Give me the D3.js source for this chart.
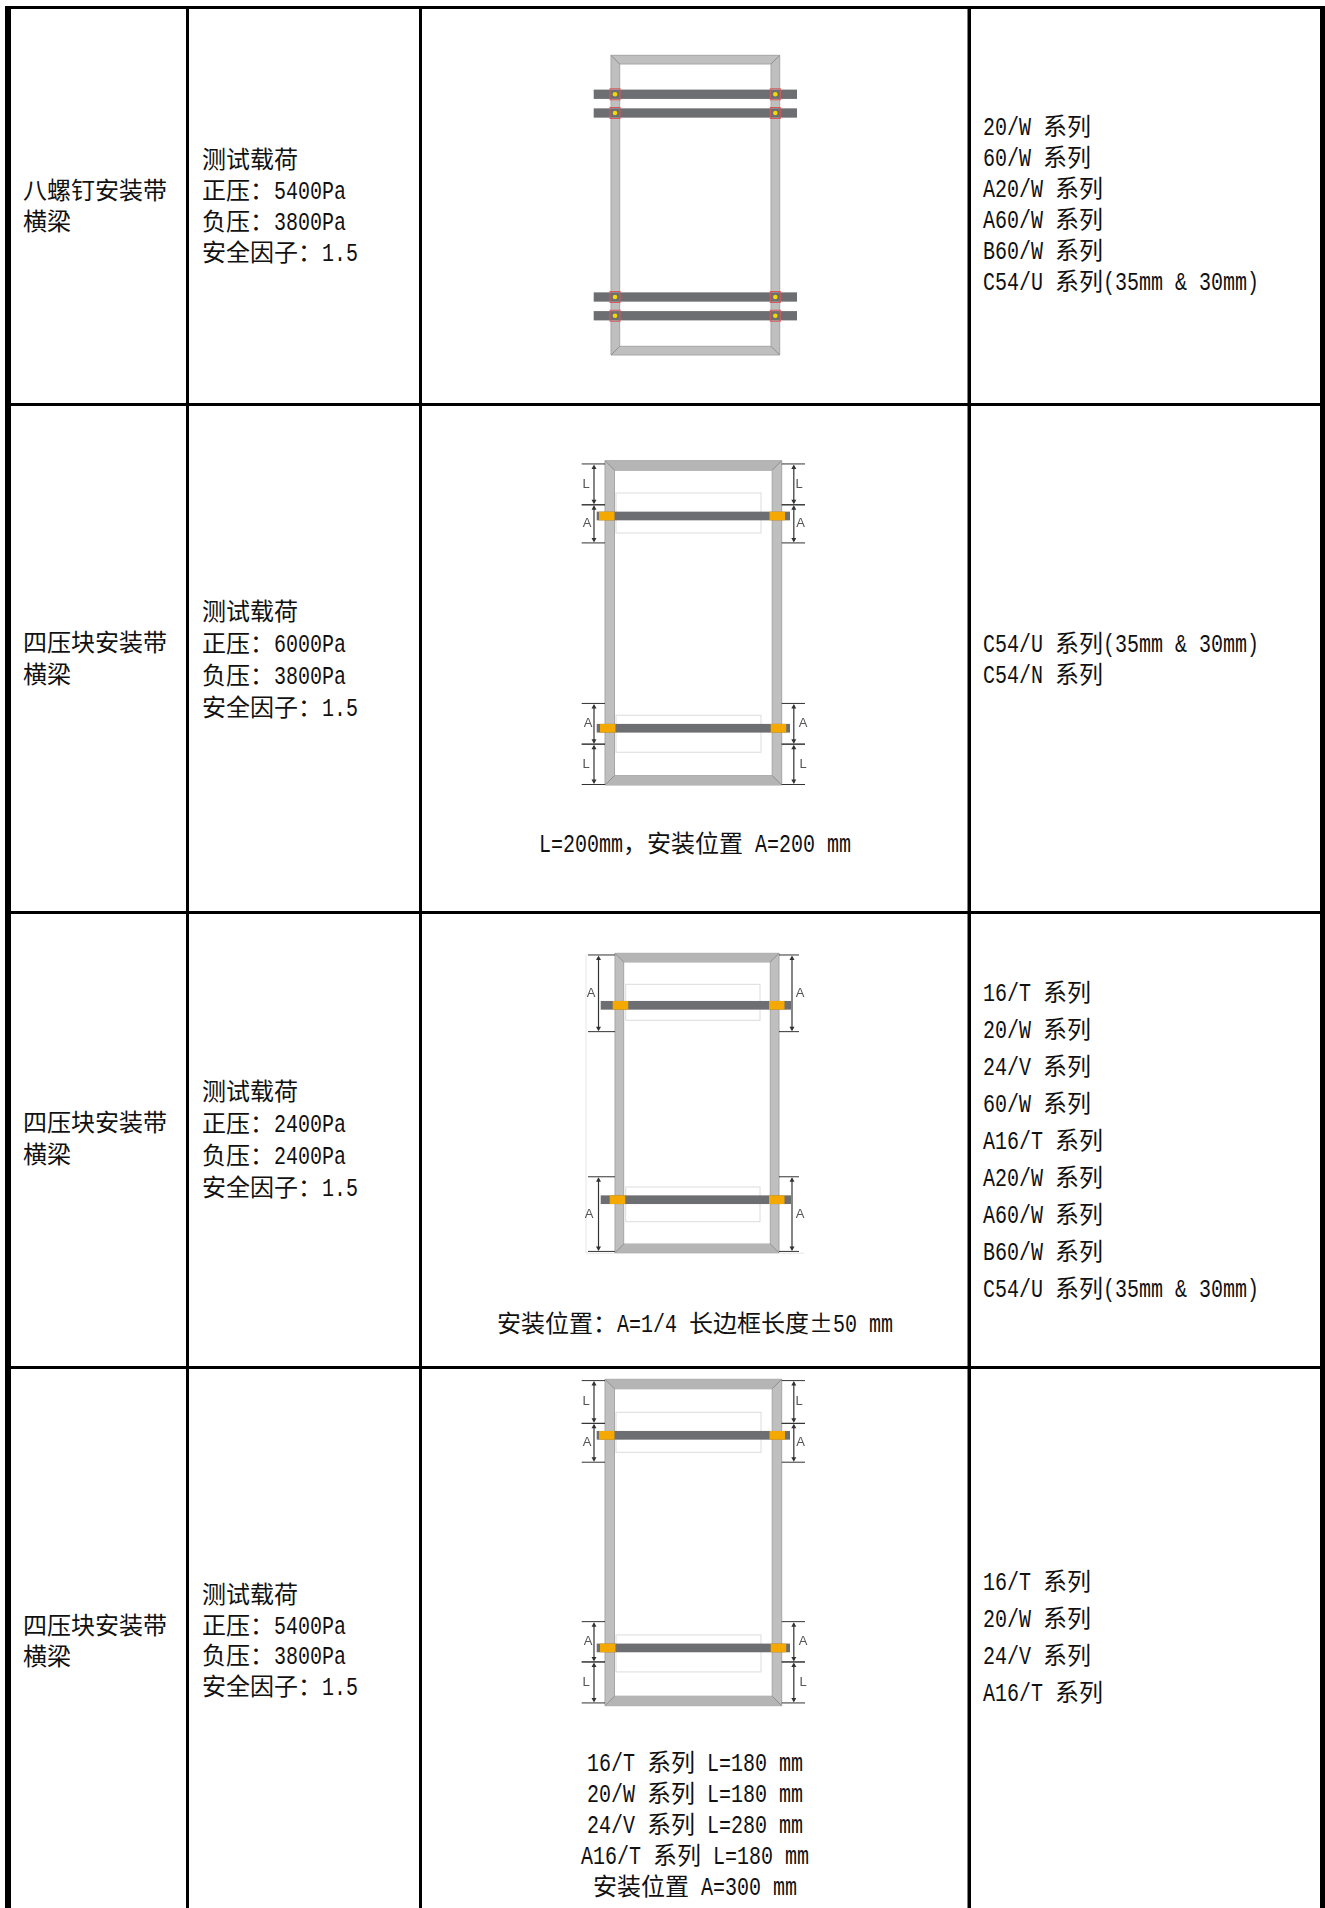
<!DOCTYPE html>
<html>
<head>
<meta charset="utf-8">
<script src="https://cdnjs.cloudflare.com/ajax/libs/d3/7.8.5/d3.min.js"></script>
<style>
  html, body { margin: 0; padding: 0; background: #fff; }
  svg { display: block; }
  text { white-space: pre; fill: #111; }
</style>
</head>
<body>
<svg id="chart" width="1325" height="1908"></svg>
<script>
// table content
var mountTypes = ["八螺钉安装带", "四压块安装带", "四压块安装带", "四压块安装带"];
var mountSuffix = ["横梁", "横梁", "横梁", "横梁"];
var positivePressure = [5400, 6000, 2400, 5400];
var negativePressure = [3800, 3800, 2400, 3800];
var safetyFactor = ["1.5", "1.5", "1.5", "1.5"];

var seriesRow1 = ["20/W 系列", "60/W 系列", "A20/W 系列", "A60/W 系列", "B60/W 系列", "C54/U 系列(35mm & 30mm)"];
var seriesRow2 = ["C54/U 系列(35mm & 30mm)", "C54/N 系列"];
var seriesRow3 = ["16/T 系列", "20/W 系列", "24/V 系列", "60/W 系列", "A16/T 系列", "A20/W 系列", "A60/W 系列", "B60/W 系列", "C54/U 系列(35mm & 30mm)"];
var seriesRow4 = ["16/T 系列", "20/W 系列", "24/V 系列", "A16/T 系列"];

var captionRow2 = ["L=200mm，安装位置 A=200 mm"];
var captionRow3 = ["安装位置：A=1/4 长边框长度±50 mm"];
var captionRow4 = ["16/T 系列 L=180 mm", "20/W 系列 L=180 mm", "24/V 系列 L=280 mm", "A16/T 系列 L=180 mm", "安装位置 A=300 mm"];

// positions along the long frame edge, 0 = top of frame, 1 = bottom
var railsRow1 = [0.130, 0.1925, 0.8065, 0.869];
var railsRow2 = [0.1705, 0.825];
var railsRow3 = [0.1737, 0.823];
var railsRow4 = [0.1716, 0.823];

var dimsRow2 = [["L", 0.01, 0.136], ["A", 0.136, 0.2535], ["A", 0.7485, 0.874], ["L", 0.874, 0.9985]];
var dimsRow3 = [["A", 0.0056, 0.2617], ["A", 0.7464, 0.9957]];
var dimsRow4 = [["L", 0.004, 0.135], ["A", 0.135, 0.254], ["A", 0.7425, 0.866], ["L", 0.866, 0.9915]];

var svg = d3.select("#chart");
var width = +svg.attr("width"),
    height = +svg.attr("height");

var CJK_W = 24, LATIN_W = 12;
var CJK_FONT = "'Noto Sans CJK SC'";
var LATIN_FONT = "'Liberation Mono'";

// grid lines of the table: [start, end] of each black rule
var colRules = [[5, 11], [186, 189], [419, 422], [967.5, 971], [1320, 1325]];
var rowRules = [[6, 9], [403, 406], [911, 914], [1366, 1369]];

var grid = svg.append("g");
grid.selectAll(".col").data(colRules).enter().append("rect")
    .attr("x", function(d) { return d[0]; })
    .attr("y", 6)
    .attr("width", function(d) { return d[1] - d[0]; })
    .attr("height", height - 6)
    .attr("fill", "#000");
grid.selectAll(".row").data(rowRules).enter().append("rect")
    .attr("x", 5)
    .attr("y", function(d) { return d[0]; })
    .attr("width", width - 5)
    .attr("height", function(d) { return d[1] - d[0]; })
    .attr("fill", "#000");

function runs(str) {
  return str.match(/[\x00-\x7f]+|[^\x00-\x7f]+/g);
}

function lineWidth(str) {
  return d3.sum(runs(str), function(r) {
    return r.charCodeAt(0) < 128 ? r.length * LATIN_W : r.length * CJK_W;
  });
}

// draw one line on the half/full width cell grid of the original font
function textLine(parent, str, x, y, centered) {
  var cx = centered ? x - lineWidth(str) / 2 : x;
  var t = parent.append("text").attr("y", y);
  runs(str).forEach(function(r) {
    var latin = r.charCodeAt(0) < 128;
    var w = r.length * (latin ? LATIN_W : CJK_W);
    t.append("tspan")
        .attr("x", cx)
        .attr("textLength", w)
        .attr("lengthAdjust", "spacingAndGlyphs")
        .style("font-family", latin ? LATIN_FONT : CJK_FONT)
        .style("font-size", latin ? "25px" : "23.6px")
        .text(r);
    cx += w;
  });
}

var textLayer = svg.append("g");
var COL1_X = 23, COL2_X = 202, COL3_CX = 695, COL4_X = 983;

// first baseline and line step per row
var titleY = [199, 651, 1131, 1634];
var titleStep = [31, 32, 32, 30.5];
var loadY = [168, 620, 1100, 1603];
var loadStep = [31, 32, 32, 30.7];
var seriesY = [135, 652, 1001, 1590];
var seriesStep = [31, 31, 37, 37];
var seriesRows = [seriesRow1, seriesRow2, seriesRow3, seriesRow4];

mountTypes.forEach(function(name, i) {
  textLine(textLayer, name, COL1_X, titleY[i]);
  textLine(textLayer, mountSuffix[i], COL1_X, titleY[i] + titleStep[i]);

  textLine(textLayer, "测试载荷", COL2_X, loadY[i]);
  textLine(textLayer, "正压：" + positivePressure[i] + "Pa", COL2_X, loadY[i] + loadStep[i]);
  textLine(textLayer, "负压：" + negativePressure[i] + "Pa", COL2_X, loadY[i] + 2 * loadStep[i]);
  textLine(textLayer, "安全因子：" + safetyFactor[i], COL2_X, loadY[i] + 3 * loadStep[i]);

  seriesRows[i].forEach(function(s, j) {
    textLine(textLayer, s, COL4_X, seriesY[i] + j * seriesStep[i]);
  });
});

textLine(textLayer, captionRow2[0], COL3_CX, 852, true);
textLine(textLayer, captionRow3[0], COL3_CX, 1332, true);
captionRow4.forEach(function(c, j) {
  textLine(textLayer, c, COL3_CX, 1771 + j * 31, true);
});

// module diagrams, slightly soft like the scanned pictures
var defs = svg.append("defs");
defs.append("filter").attr("id", "soft")
    .attr("x", "-5%").attr("y", "-5%").attr("width", "110%").attr("height", "110%")
  .append("feGaussianBlur").attr("stdDeviation", 0.55);

function drawFrame(g, f) {
  var x0 = f.x0, x1 = f.x1, y0 = f.y0, y1 = f.y1, t = f.thick;
  g.append("path")
      .attr("d", "M" + x0 + "," + y0 + "H" + x1 + "V" + y1 + "H" + x0 + "Z" +
                 "M" + (x0 + t) + "," + (y0 + t) + "H" + (x1 - t) + "V" + (y1 - t) + "H" + (x0 + t) + "Z")
      .attr("fill", "#bfbfbf")
      .attr("fill-rule", "evenodd")
      .attr("stroke", "#a6a6a6")
      .attr("stroke-width", 1);
  if (f.capFill) {
    var caps = [[[x0, y0], [x1, y0], [x1 - t, y0 + t], [x0 + t, y0 + t]],
                [[x0, y1], [x1, y1], [x1 - t, y1 - t], [x0 + t, y1 - t]]];
    g.selectAll(".cap").data(caps).enter().append("path")
        .attr("d", function(d) { return d3.line()(d) + "Z"; })
        .attr("fill", f.capFill);
  }
  var miters = [[x0, y0, x0 + t, y0 + t], [x1, y0, x1 - t, y0 + t], [x0, y1, x0 + t, y1 - t], [x1, y1, x1 - t, y1 - t]];
  g.selectAll(".miter").data(miters).enter().append("line")
      .attr("x1", function(d) { return d[0]; })
      .attr("y1", function(d) { return d[1]; })
      .attr("x2", function(d) { return d[2]; })
      .attr("y2", function(d) { return d[3]; })
      .attr("stroke", "#8f8f8f")
      .attr("stroke-width", 1);
}

function drawRails(g, f, rails, y) {
  g.selectAll(".rail").data(rails).enter().append("rect")
      .attr("x", f.railX0)
      .attr("y", function(d) { return y(d) - f.railH / 2; })
      .attr("width", f.railX1 - f.railX0)
      .attr("height", f.railH)
      .attr("fill", "#6d6e71");
}

function drawBolts(g, f, rails, y) {
  var xs = [f.boltL, f.boltR];
  xs.forEach(function(bx) {
    g.selectAll(null).data(rails).enter().append("rect")
        .attr("x", bx - 5)
        .attr("y", function(d) { return y(d) - 5.5; })
        .attr("width", 10)
        .attr("height", 11)
        .attr("fill", "none")
        .attr("stroke", "#d9595c")
        .attr("stroke-width", 1);
    g.selectAll(null).data(rails).enter().append("circle")
        .attr("cx", bx)
        .attr("cy", function(d) { return y(d); })
        .attr("r", 2.3)
        .attr("fill", "#f2d900");
  });
}

function drawModules(g, f, rails, y) {
  rails.forEach(function(r, i) {
    g.append("rect")
        .attr("x", f.modX0)
        .attr("y", y(r) + f.modTop[i])
        .attr("width", f.modX1 - f.modX0)
        .attr("height", f.modH[i])
        .attr("fill", "none")
        .attr("stroke", "#dcdcdc")
        .attr("stroke-width", 1);
  });
}

function drawClamps(g, f, rails, y) {
  rails.forEach(function(r, i) {
    f.clamps[i].forEach(function(cx) {
      g.append("rect")
          .attr("x", cx)
          .attr("y", y(r) - f.railH / 2)
          .attr("width", 15.5)
          .attr("height", f.railH)
          .attr("fill", "#f5a800");
    });
  });
}

function drawDims(g, f, dims, y) {
  var sides = [
    { x: f.dimL, a: f.tickL0, b: f.x0, lab: f.labL },
    { x: f.dimR, a: f.x1, b: f.tickR1, lab: f.labR }
  ];
  sides.forEach(function(s) {
    dims.forEach(function(d, i) {
      [d[1], d[2]].forEach(function(v) {
        g.append("line")
            .attr("x1", s.a).attr("x2", s.b)
            .attr("y1", y(v)).attr("y2", y(v))
            .attr("stroke", "#333").attr("stroke-width", 1);
      });
      g.append("line")
          .attr("x1", s.x).attr("x2", s.x)
          .attr("y1", y(d[1]) + 2).attr("y2", y(d[2]) - 2)
          .attr("stroke", "#333").attr("stroke-width", 1.2);
      // arrow heads
      g.append("path")
          .attr("d", d3.line()([[s.x - 2.5, y(d[1]) + 5], [s.x, y(d[1]) + 0.5], [s.x + 2.5, y(d[1]) + 5]]) + "Z")
          .attr("fill", "#333");
      g.append("path")
          .attr("d", d3.line()([[s.x - 2.5, y(d[2]) - 5], [s.x, y(d[2]) - 0.5], [s.x + 2.5, y(d[2]) - 5]]) + "Z")
          .attr("fill", "#333");
      g.append("text")
          .attr("x", s.lab[i])
          .attr("y", (y(d[1]) + y(d[2])) / 2 + 3.5)
          .attr("text-anchor", "middle")
          .style("font-family", "'Liberation Sans'")
          .style("font-size", "13px")
          .style("fill", "#555")
          .text(d[0]);
    });
  });
}

var panels = [
  { rails: railsRow1, dims: null, x0: 611, x1: 779.7, y0: 55.3, y1: 355, thick: 8.7,
    railX0: 593.7, railX1: 797, railH: 9.3, boltL: 615, boltR: 775.3 },
  { rails: railsRow2, dims: dimsRow2, x0: 605, x1: 781.7, y0: 460.7, y1: 785, thick: 9.5, capFill: "#b5b5b5",
    railX0: 596.7, railX1: 790, railH: 8.7, clamps: [[599, 769.5], [600, 770.7]],
    modX0: 616, modX1: 761, modTop: [-23, -13], modH: [40, 37],
    dimL: 594, dimR: 793.8, tickL0: 581.7, tickR1: 805,
    labL: [586, 587, 588, 586], labR: [799, 800.7, 803, 803] },
  { rails: railsRow3, dims: dimsRow3, x0: 615, x1: 779, y0: 953.3, y1: 1252.7, thick: 8.7, capFill: "#b5b5b5",
    railX0: 600.7, railX1: 791, railH: 8.7, clamps: [[612.7, 769], [609.7, 769]],
    modX0: 625.7, modX1: 760, modTop: [-21, -12.7], modH: [36, 34.7],
    dimL: 598.5, dimR: 792, tickL0: 588, tickR1: 799,
    labL: [591, 589], labR: [800, 800], ghost: 586 },
  { rails: railsRow4, dims: dimsRow4, x0: 605, x1: 781.7, y0: 1379.3, y1: 1705.7, thick: 9.5, capFill: "#b5b5b5",
    railX0: 596.7, railX1: 790, railH: 8.7, clamps: [[599, 769.5], [600, 770.7]],
    modX0: 616, modX1: 761, modTop: [-23, -13], modH: [40, 37],
    dimL: 594, dimR: 793.8, tickL0: 581.7, tickR1: 805,
    labL: [586, 587, 588, 586], labR: [799, 800.7, 803, 803] }
];

panels.forEach(function(f) {
  var y = d3.scaleLinear().domain([0, 1]).range([f.y0, f.y1]);
  var g = svg.append("g").attr("filter", "url(#soft)");
  if (f.ghost) {
    // faint edge of the pasted picture
    g.append("path")
        .attr("d", "M" + f.ghost + "," + (f.y0 + 1) + "V" + (f.y1 + 0.5) + "H" + (f.x1 + 25))
        .attr("fill", "none")
        .attr("stroke", "#e6e6e6")
        .attr("stroke-width", 1);
  }
  if (f.modX0) drawModules(g, f, f.rails, y);
  drawFrame(g, f);
  drawRails(g, f, f.rails, y);
  if (f.clamps) drawClamps(g, f, f.rails, y);
  if (f.boltL) drawBolts(g, f, f.rails, y);
  if (f.dims) drawDims(g, f, f.dims, y);
});
</script>
</body>
</html>
